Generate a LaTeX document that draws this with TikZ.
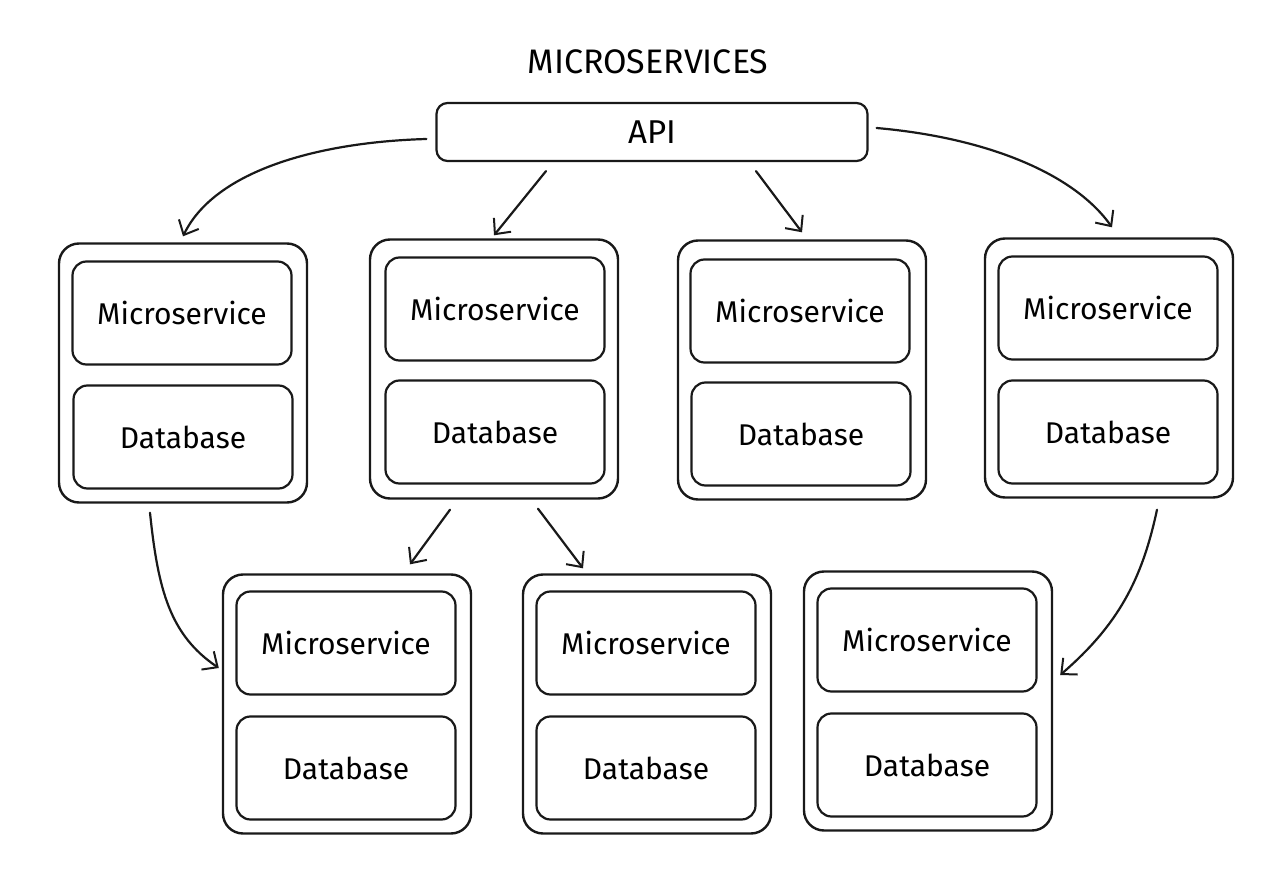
\documentclass[tikz,border=0pt]{standalone}
\usepackage{fontspec}
\setmainfont{Fira Sans}
\usetikzlibrary{arrows.meta,calc}
\tikzset{
  box/.style={draw=black!90, line width=2.2pt, rounded corners=14pt, inner sep=0pt, anchor=center},
  outerbox/.style={draw=black!90, line width=2.4pt, rounded corners=20pt, inner sep=0pt, minimum width=248pt, minimum height=259pt},
  innerbox/.style={box, minimum width=219pt, minimum height=103pt, font=\fontsize{30}{34}\selectfont},
  conn/.style={draw=black!90, line width=2.2pt, line cap=round, -{Straight Barb[length=12pt,width=22pt,line width=2pt]}},
  lbl/.style={font=\fontsize{33}{38}\selectfont}
}
\begin{document}
\begin{tikzpicture}[x=1pt,y=-1pt]
\useasboundingbox (0,0) rectangle (1283,893);
\fill[white] (0,0) rectangle (1283,893);
\node[lbl, font=\fontsize{34}{38}\selectfont] (title) at (648,62) {MICROSERVICES};
\node[box, minimum width=431pt, minimum height=58pt, rounded corners=11pt, lbl] (api) at (652,132) {API};
% top row
\node[outerbox] (c1) at (183,373) {};
\node[innerbox] (m1) at (182,313) {Microservice};
\node[innerbox] (d1) at (183,437) {Database};
\node[outerbox] (c2) at (494,369) {};
\node[innerbox] (m2) at (495,309) {Microservice};
\node[innerbox] (d2) at (495,432) {Database};
\node[outerbox] (c3) at (802,370) {};
\node[innerbox] (m3) at (800,311) {Microservice};
\node[innerbox] (d3) at (801,434) {Database};
\node[outerbox] (c4) at (1109,368) {};
\node[innerbox] (m4) at (1108,308) {Microservice};
\node[innerbox] (d4) at (1108,432) {Database};
% bottom row
\node[outerbox] (c5) at (347,704) {};
\node[innerbox] (m5) at (346,643) {Microservice};
\node[innerbox] (d5) at (346,768) {Database};
\node[outerbox] (c6) at (647,704) {};
\node[innerbox] (m6) at (646,643) {Microservice};
\node[innerbox] (d6) at (646,768) {Database};
\node[outerbox] (c7) at (928,701) {};
\node[innerbox] (m7) at (927,640) {Microservice};
\node[innerbox] (d7) at (927,765) {Database};
% connectors
\draw[conn] ($(api.west)+(-9,7)$) .. controls (320,142) and (215,170) .. ($(c1.north)+(0,-6)$);
\draw[conn] ($(api.south)+(-106,9)$) -- ($(c2.north)+(0,-3)$);
\draw[conn] ($(api.south)+(104,9)$) -- ($(c3.north)+(0,-7)$);
\draw[conn] ($(api.east)+(8,-4)$) .. controls (990,138) and (1075,175) .. ($(c4.north)+(3,-10)$);
\draw[conn] ($(c1.south)+(-33,9)$) .. controls (158,590) and (170,635) .. ($(c5.west)+(-3,-36)$);
\draw[conn] ($(c2.south)+(-44,10)$) -- ($(c5.north)+(63,-9)$);
\draw[conn] ($(c2.south)+(44,9)$) -- ($(c6.north)+(-64,-5)$);
\draw[conn] ($(c4.south)+(48,11)$) .. controls (1142,580) and (1118,625) .. ($(c7.east)+(7,-26)$);
\end{tikzpicture}
\end{document}
